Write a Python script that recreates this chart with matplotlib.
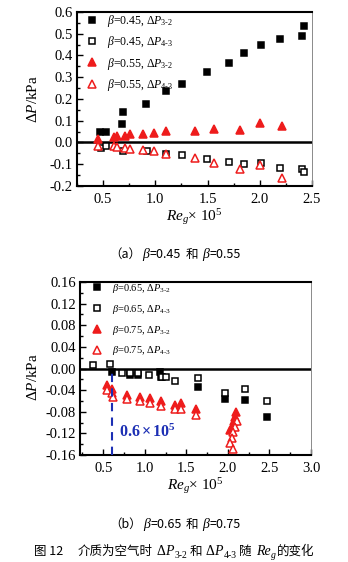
import matplotlib
matplotlib.use("Agg")
import matplotlib.pyplot as plt
from matplotlib.lines import Line2D
from matplotlib.ticker import MultipleLocator, FormatStrFormatter

plt.rcParams["font.family"] = ["Liberation Serif", "Noto Sans CJK SC"]
plt.rcParams["mathtext.fontset"] = "custom"
plt.rcParams["mathtext.rm"] = "Liberation Serif"
plt.rcParams["mathtext.it"] = "Liberation Serif:italic"
plt.rcParams["mathtext.bf"] = "Liberation Serif:bold"
plt.rcParams["axes.unicode_minus"] = False

# ---------------- data: (a) beta = 0.45 / 0.55 ----------------
re_045_32 = [0.47, 0.525, 0.68, 0.695, 0.915, 1.10, 1.26, 1.49, 1.71, 1.85, 2.01, 2.19, 2.40, 2.42]
dp_045_32 = [0.046, 0.050, 0.083, 0.140, 0.178, 0.237, 0.268, 0.325, 0.367, 0.410, 0.447, 0.478, 0.490, 0.536]
re_045_43 = [0.48, 0.525, 0.69, 0.92, 1.10, 1.26, 1.49, 1.71, 1.85, 2.01, 2.19, 2.40, 2.42]
dp_045_43 = [-0.025, -0.015, -0.037, -0.037, -0.052, -0.057, -0.077, -0.089, -0.101, -0.095, -0.116, -0.121, -0.137]
re_055 = [0.455, 0.60, 0.63, 0.71, 0.76, 0.88, 0.99, 1.10, 1.38, 1.56, 1.81, 2.00, 2.21]
dp_055_32 = [0.018, 0.025, 0.032, 0.031, 0.040, 0.040, 0.044, 0.055, 0.055, 0.062, 0.058, 0.090, 0.077]
dp_055_43 = [-0.018, -0.018, -0.020, -0.025, -0.031, -0.035, -0.037, -0.055, -0.072, -0.094, -0.122, -0.102, -0.163]

# ---------------- data: (b) beta = 0.65 / 0.75 ----------------
re_065_32 = [0.61, 0.82, 0.92, 1.18, 1.20, 1.64, 1.96, 2.20, 2.47]
dp_065_32 = [-0.006, -0.012, -0.012, -0.006, -0.016, -0.034, -0.057, -0.058, -0.089]
re_065_43 = [0.38, 0.58, 0.72, 0.82, 0.92, 1.05, 1.21, 1.26, 1.36, 1.64, 1.96, 2.20, 2.47]
dp_065_43 = [0.006, 0.008, -0.008, -0.009, -0.009, -0.012, -0.016, -0.016, -0.023, -0.018, -0.046, -0.038, -0.061]
re_075_32 = [0.54, 0.60, 0.78, 0.94, 1.06, 1.20, 1.36, 1.43, 1.62, 2.10, 2.09, 2.07, 2.05, 2.03]
dp_075_32 = [-0.031, -0.037, -0.049, -0.052, -0.055, -0.061, -0.068, -0.064, -0.074, -0.080, -0.089, -0.098, -0.108, -0.114]
re_075_43 = [0.54, 0.60, 0.62, 0.78, 0.94, 1.06, 1.20, 1.36, 1.43, 1.62, 2.11, 2.09, 2.06, 2.05, 2.03, 2.06]
dp_075_43 = [-0.040, -0.046, -0.052, -0.057, -0.061, -0.064, -0.069, -0.074, -0.074, -0.086, -0.098, -0.108, -0.117, -0.129, -0.138, -0.148]

re_critical = 0.6

labels_a = [r"$\beta$=0.45, $\mathrm{\Delta}P_{3\text{-}2}$",
            r"$\beta$=0.45, $\mathrm{\Delta}P_{4\text{-}3}$",
            r"$\beta$=0.55, $\mathrm{\Delta}P_{3\text{-}2}$",
            r"$\beta$=0.55, $\mathrm{\Delta}P_{4\text{-}3}$"]
labels_b = [r"$\beta$=0.65, $\mathrm{\Delta}P_{3\text{-}2}$",
            r"$\beta$=0.65, $\mathrm{\Delta}P_{4\text{-}3}$",
            r"$\beta$=0.75, $\mathrm{\Delta}P_{3\text{-}2}$",
            r"$\beta$=0.75, $\mathrm{\Delta}P_{4\text{-}3}$"]

RED = "#ee1c1c"
W, H = 348, 562
fig = plt.figure(figsize=(W / 100, H / 100), dpi=100)
fig.patch.set_facecolor("white")


def px_axes(left, top, right, bottom):
    return fig.add_axes([left / W, 1 - bottom / H, (right - left) / W, (bottom - top) / H])


def style_axes(ax):
    for side in ("left", "bottom", "top"):
        ax.spines[side].set_linewidth(1.5)
        ax.spines[side].set_color("black")
    ax.spines["right"].set_linewidth(0.7)
    ax.spines["right"].set_color("#8a8a8a")
    ax.tick_params(which="both", direction="in", top=False, right=False,
                   labelsize=10.5, width=1.0)
    ax.tick_params(which="major", length=4)
    ax.tick_params(which="minor", length=2)
    ax.tick_params(axis="x", pad=5)
    ax.tick_params(axis="y", pad=3)
    ax.axhline(0, color="black", lw=1.8, zorder=1)


def draw_series(ax, xs, ys, kind, ms_sq, ms_tri, lw):
    if kind == "sq_fill":
        ax.plot(xs, ys, ls="none", marker="s", ms=ms_sq, mfc="black", mec="black", mew=lw, zorder=3)
    elif kind == "sq_open":
        ax.plot(xs, ys, ls="none", marker="s", ms=ms_sq, mfc="white", mec="black", mew=lw, zorder=3)
    elif kind == "tri_fill":
        ax.plot(xs, ys, ls="none", marker="^", ms=ms_tri, mfc=RED, mec=RED, mew=lw, zorder=4)
    else:
        ax.plot(xs, ys, ls="none", marker="^", ms=ms_tri, mfc="white", mec=RED, mew=lw, zorder=4)


def legend_handles(ms_sq, ms_tri, lw):
    return [Line2D([], [], ls="none", marker="s", ms=ms_sq, mfc="black", mec="black", mew=lw),
            Line2D([], [], ls="none", marker="s", ms=ms_sq, mfc="white", mec="black", mew=lw),
            Line2D([], [], ls="none", marker="^", ms=ms_tri, mfc=RED, mec=RED, mew=lw),
            Line2D([], [], ls="none", marker="^", ms=ms_tri, mfc="white", mec=RED, mew=lw)]


kinds = ["sq_fill", "sq_open", "tri_fill", "tri_open"]

# ---------------- panel (a) ----------------
ax1 = px_axes(77, 12, 312, 186)
style_axes(ax1)
for kind, xs, ys in zip(kinds,
                        [re_045_32, re_045_43, re_055, re_055],
                        [dp_045_32, dp_045_43, dp_055_32, dp_055_43]):
    draw_series(ax1, xs, ys, kind, 4.6, 6.2, 1.1)
ax1.set_xlim(0.25, 2.5)
ax1.set_ylim(-0.2, 0.6)
ax1.xaxis.set_major_locator(MultipleLocator(0.5))
ax1.xaxis.set_minor_locator(MultipleLocator(0.25))
ax1.yaxis.set_major_locator(MultipleLocator(0.1))
ax1.yaxis.set_minor_locator(MultipleLocator(0.05))
ax1.xaxis.set_major_formatter(FormatStrFormatter("%.1f"))
ax1.yaxis.set_major_formatter(FormatStrFormatter("%.1f"))
ax1.set_ylabel(r"$\mathrm{\Delta}P$/kPa", fontsize=11)
ax1.yaxis.set_label_coords((33 - 77) / 235, 0.5)
ax1.yaxis.label.set_va("center")
ax1.set_xlabel(r"$Re_{g}\mathrm{\times\ 10^{5}}$", fontsize=11, labelpad=1)
ax1.legend(legend_handles(4.6, 6.2, 1.1), labels_a, loc="upper left",
           bbox_to_anchor=(86 / W, 1 - 13 / H), bbox_transform=fig.transFigure,
           frameon=False, fontsize=8.5, handlelength=1.0, handletextpad=0.8,
           labelspacing=0.45, borderpad=0, borderaxespad=0, numpoints=1)

# ---------------- panel (b) ----------------
ax2 = px_axes(80, 282, 311, 455)
style_axes(ax2)
for kind, xs, ys in zip(kinds,
                        [re_065_32, re_065_43, re_075_32, re_075_43],
                        [dp_065_32, dp_065_43, dp_075_32, dp_075_43]):
    draw_series(ax2, xs, ys, kind, 4.2, 5.8, 1.1)
ax2.set_xlim(0.22, 3.0)
ax2.set_ylim(-0.16, 0.16)
ax2.xaxis.set_major_locator(MultipleLocator(0.5))
ax2.xaxis.set_minor_locator(MultipleLocator(0.25))
ax2.yaxis.set_major_locator(MultipleLocator(0.04))
ax2.yaxis.set_minor_locator(MultipleLocator(0.02))
ax2.xaxis.set_major_formatter(FormatStrFormatter("%.1f"))
ax2.yaxis.set_major_formatter(FormatStrFormatter("%.2f"))
ax2.set_ylabel(r"$\mathrm{\Delta}P$/kPa", fontsize=11)
ax2.yaxis.set_label_coords((33 - 80) / 231, 0.45)
ax2.yaxis.label.set_va("center")
ax2.set_xlabel(r"$Re_{g}\mathrm{\times\ 10^{5}}$", fontsize=11, labelpad=1)
ax2.legend(legend_handles(4.2, 5.8, 1.1), labels_b, loc="upper left",
           bbox_to_anchor=(92 / W, 1 - 282 / H), bbox_transform=fig.transFigure,
           frameon=False, fontsize=7.5, handlelength=1.0, handletextpad=0.9,
           labelspacing=0.75, borderpad=0, borderaxespad=0, numpoints=1)

# critical Reynolds number marker
ax2.vlines(re_critical, -0.16, 0, colors="#1c2fb4", linestyles=(0, (4, 3)), lw=1.5, zorder=5)
ax2.text(re_critical + 0.09, -0.118, r"$\mathbf{%.1f\times10^{5}}$" % re_critical,
         color="#1c2fb4", fontsize=11.5, va="center", ha="left", zorder=6)

# ---------------- captions ----------------
renderer = fig.canvas.get_renderer()
CJK = dict(family=["Noto Sans CJK SC"], fontsize=9)
BETA = dict(family=["Liberation Serif"], style="italic", fontsize=10)
SERIF_I = dict(family=["Liberation Serif"], style="italic", fontsize=10)
SERIF = dict(family=["Liberation Serif"], fontsize=10)
SUB = dict(family=["Liberation Serif"], fontsize=7)


def rich_line(runs, xc_px, base_px):
    placed = []
    for text, kw, dy, gap in runs:
        t = fig.text(0, 0, text, ha="left", va="baseline", **kw)
        placed.append((t, dy, gap, t.get_window_extent(renderer).width))
    total = sum(w + g for _, _, g, w in placed)
    x = xc_px - total / 2
    for t, dy, gap, w in placed:
        t.set_position((x / W, (H - base_px + dy) / H))
        x += w + gap


rich_line([("（a）", CJK, 0, 1), ("β", BETA, 0, 0.5), ("=0.45", CJK, 0, 4),
           ("和", CJK, 0, 4), ("β", BETA, 0, 0.5), ("=0.55", CJK, 0, 0)], 175, 258)
rich_line([("（b）", CJK, 0, 1), ("β", BETA, 0, 0.5), ("=0.65", CJK, 0, 4),
           ("和", CJK, 0, 4), ("β", BETA, 0, 0.5), ("=0.75", CJK, 0, 0)], 175, 528)
rich_line([("图 12", CJK, 0, 14), ("介质为空气时", CJK, 0, 4),
           ("Δ", SERIF, 0, 0), ("P", SERIF_I, 0, 0.5), ("3-2", SUB, -2.5, 3),
           ("和", CJK, 0, 3),
           ("Δ", SERIF, 0, 0), ("P", SERIF_I, 0, 0.5), ("4-3", SUB, -2.5, 3),
           ("随", CJK, 0, 4),
           ("Re", SERIF_I, 0, 0.5), ("g", dict(SUB, style="italic"), -2.5, 0.5),
           ("的变化", CJK, 0, 0)], 174, 555)

fig.savefig("out.png", dpi=100, facecolor="white")
